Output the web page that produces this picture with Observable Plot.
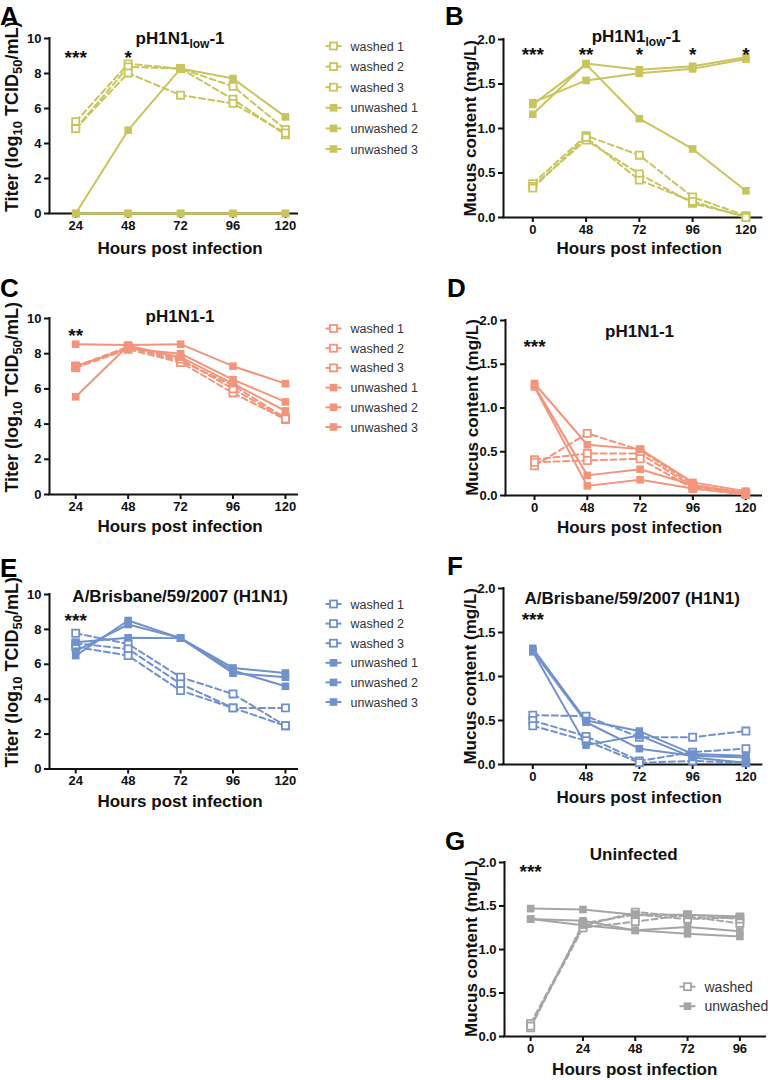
<!DOCTYPE html>
<html><head><meta charset="utf-8">
<script src="https://cdn.jsdelivr.net/npm/d3@7"></script>
<script src="https://cdn.jsdelivr.net/npm/@observablehq/plot@0.6"></script>
<style>
body{margin:0;background:#fff;}
#page{position:relative;width:773px;height:1080px;overflow:hidden;background:#fff;font-family:"Liberation Sans",Arial,sans-serif;}
#overlay{position:absolute;left:0;top:0;pointer-events:none;}
</style></head><body><div id="page"></div>
<script>
// ---------- data ----------
const titerHours = ["24", "48", "72", "96", "120"];
const mucusHours = ["0", "48", "72", "96", "120"];
const uninfHours = ["0", "24", "48", "72", "96"];
const legendNames = ["washed 1", "washed 2", "washed 3", "unwashed 1", "unwashed 2", "unwashed 3"];
const legendNamesG = ["washed", "unwashed"];

// A: pH1N1low-1 titer
const aWashed = [[5.25, 8.55, 8.28, 7.27, 4.8], [4.85, 8.38, 8.28, 6.53, 4.5], [4.85, 8.03, 6.76, 6.29, 4.6]];
const aUnwashed = [[0, 4.76, 8.28, 7.71, 5.52], [0, 0, 0, 0, 0], [0, 0, 0, 0, 0]];
const aSig = ["***", "*", "", "", ""];
// B: pH1N1low-1 mucus
const bWashed = [[0.38, 0.92, 0.70, 0.23, 0.02], [0.35, 0.87, 0.49, 0.16, 0.01], [0.33, 0.90, 0.42, 0.18, 0.0]];
const bUnwashed = [[1.16, 1.73, 1.66, 1.70, 1.80], [1.29, 1.54, 1.62, 1.67, 1.78], [1.27, 1.72, 1.11, 0.77, 0.30]];
const bSig = ["***", "**", "*", "*", "*"];
// C: pH1N1-1 titer
const cWashed = [[7.3, 8.35, 7.6, 6.2, 4.35], [7.2, 8.25, 7.5, 5.77, 4.26], [7.25, 8.4, 7.7, 6.0, 4.3]];
const cUnwashed = [[8.54, 8.5, 8.54, 7.29, 6.3], [7.29, 8.3, 8.0, 6.53, 5.26], [5.55, 8.45, 7.8, 6.3, 4.75]];
const cSig = ["**", "", "", "", ""];
// D: pH1N1-1 mucus
const dWashed = [[0.34, 0.71, 0.52, 0.12, 0.03], [0.41, 0.48, 0.48, 0.10, 0.02], [0.38, 0.40, 0.42, 0.08, 0.01]];
const dUnwashed = [[1.28, 0.58, 0.53, 0.15, 0.05], [1.25, 0.23, 0.30, 0.12, 0.03], [1.24, 0.11, 0.18, 0.08, 0.02]];
const dSig = ["***", "", "", "", ""];
// E: A/Brisbane/59/2007 titer
const eWashed = [[7.78, 7.17, 5.26, 4.3, 2.48], [7.2, 6.88, 4.88, 3.5, 3.5], [7.0, 6.5, 4.49, 3.5, 2.48]];
const eUnwashed = [[6.5, 8.51, 7.5, 5.79, 5.5], [6.75, 8.28, 7.5, 5.64, 4.74], [7.27, 7.52, 7.5, 5.49, 5.26]];
const eSig = ["***", "", "", "", ""];
// F: A/Brisbane/59/2007 mucus
const fWashed = [[0.56, 0.55, 0.31, 0.31, 0.38], [0.50, 0.32, 0.04, 0.14, 0.18], [0.44, 0.27, 0.02, 0.04, 0.02]];
const fUnwashed = [[1.32, 0.50, 0.38, 0.12, 0.10], [1.29, 0.48, 0.18, 0.10, 0.08], [1.28, 0.22, 0.33, 0.08, 0.02]];
const fSig = ["***", "", "", "", ""];
// G: Uninfected mucus
const gWashed = [[0.15, 1.27, 1.43, 1.38, 1.30], [0.10, 1.30, 1.40, 1.35, 1.37], [0.12, 1.25, 1.32, 1.40, 1.35]];
const gUnwashed = [[1.47, 1.46, 1.40, 1.40, 1.38], [1.35, 1.33, 1.22, 1.26, 1.21], [1.35, 1.28, 1.22, 1.18, 1.15]];
const gSig = ["***", "", "", "", ""];

const titerTicks = [0, 2, 4, 6, 8, 10];
const mucusTicks = [0, 0.5, 1.0, 1.5, 2.0];

// ---------- styles ----------
const YELLOW = "#c9c45c", SALMON = "#f3957b", BLUE = "#7191cc", GRAY = "#a5a5a5";
const FONT = "'Liberation Sans', Arial, sans-serif";
const page = document.getElementById("page");

function pxOf(cfg, i) {
  const [d0, d1] = cfg.xDomain;
  return cfg.xL + (i - d0) / (d1 - d0) * (cfg.xR - cfg.xL);
}

function panel(cfg) {
  const mL = 60, mR = 14, mT = 34, mB = 34;
  const width = (cfg.xR - cfg.xL) + mL + mR;
  const height = (cfg.yB - cfg.yT) + mT + mB;
  const rows = [];
  cfg.washed.forEach((arr, k) => arr.forEach((v, i) => rows.push({series: "w" + k, group: "washed", i, v})));
  cfg.unwashed.forEach((arr, k) => arr.forEach((v, i) => rows.push({series: "u" + k, group: "unwashed", i, v})));
  const W = rows.filter(d => d.group === "washed");
  const U = rows.filter(d => d.group === "unwashed");
  const sig = cfg.sig.map((s, i) => ({s, i})).filter(d => d.s);
  const xt = cfg.hours.map((h, i) => ({h, i}));
  const [y0, y1] = cfg.yDomain, [x0, x1] = cfg.xDomain;
  const svg = Plot.plot({
    width, height, marginLeft: mL, marginRight: mR, marginTop: mT, marginBottom: mB,
    x: {type: "linear", domain: cfg.xDomain, axis: null},
    y: {type: "linear", domain: cfg.yDomain, axis: null},
    style: {fontFamily: FONT, fontWeight: "bold", background: "transparent", overflow: "visible"},
    marks: [
      Plot.axisY({ticks: cfg.yTicks, tickFormat: () => "", tickSize: 5, strokeWidth: 2, color: "#111", label: null}),
      Plot.axisX({ticks: [0, 1, 2, 3, 4], tickFormat: () => "", tickSize: 5, strokeWidth: 2, color: "#111", label: null}),
      Plot.text(cfg.yTicks, {x: x0, y: d => d, text: cfg.yFmt, textAnchor: "end", dx: -8,
        fontSize: 13, fontWeight: "bold", fill: "#111"}),
      Plot.text(xt, {x: "i", y: y0, text: "h", lineAnchor: "top", dy: 7,
        fontSize: 13, fontWeight: "bold", fill: "#111"}),
      Plot.ruleX([x0], {y1: y0, y2: y1, stroke: "#111", strokeWidth: 2, strokeLinecap: "square"}),
      Plot.ruleY([y0], {x1: x0, x2: x1, stroke: "#111", strokeWidth: 2, strokeLinecap: "square"}),
      Plot.line(W, {x: "i", y: "v", z: "series", stroke: cfg.color, strokeWidth: 2, strokeDasharray: "6,3.5"}),
      Plot.line(U, {x: "i", y: "v", z: "series", stroke: cfg.color, strokeWidth: 2}),
      Plot.dot(W, {x: "i", y: "v", symbol: "square", r: 4, fill: "white", stroke: cfg.color, strokeWidth: 1.8}),
      Plot.dot(U, {x: "i", y: "v", symbol: "square", r: 4.3, fill: cfg.color, stroke: "none"}),
      Plot.text(sig, {x: "i", y: cfg.sigY, text: "s", fontSize: 19, fontWeight: "bold", fill: "#111", dy: 5})
    ]
  });
  svg.style.position = "absolute";
  svg.style.left = (cfg.xL - mL) + "px";
  svg.style.top = (cfg.yT - mT) + "px";
  svg.style.overflow = "visible";
  page.appendChild(svg);
}

const fmtT = d => String(d);
const fmtM = d => d.toFixed(1);
const panels = {
  A: {xL: 49, xR: 297, yT: 38.3, yB: 213.3, xDomain: [-0.5, 4.23], yDomain: [0, 10], yTicks: titerTicks, yFmt: fmtT,
      hours: titerHours, washed: aWashed, unwashed: aUnwashed, color: YELLOW, sig: aSig, sigY: 9.16},
  B: {xL: 503.3, xR: 761.7, yT: 39.3, yB: 217.3, xDomain: [-0.55, 4.3], yDomain: [0, 2], yTicks: mucusTicks, yFmt: fmtM,
      hours: mucusHours, washed: bWashed, unwashed: bUnwashed, color: YELLOW, sig: bSig, sigY: 1.88},
  C: {xL: 49, xR: 297, yT: 318.3, yB: 494.3, xDomain: [-0.5, 4.23], yDomain: [0, 10], yTicks: titerTicks, yFmt: fmtT,
      hours: titerHours, washed: cWashed, unwashed: cUnwashed, color: SALMON, sig: cSig, sigY: 9.3},
  D: {xL: 505, xR: 761, yT: 320, yB: 495, xDomain: [-0.55, 4.3], yDomain: [0, 2], yTicks: mucusTicks, yFmt: fmtM,
      hours: mucusHours, washed: dWashed, unwashed: dUnwashed, color: SALMON, sig: dSig, sigY: 1.75},
  E: {xL: 49, xR: 297, yT: 594, yB: 768.5, xDomain: [-0.5, 4.23], yDomain: [0, 10], yTicks: titerTicks, yFmt: fmtT,
      hours: titerHours, washed: eWashed, unwashed: eUnwashed, color: BLUE, sig: eSig, sigY: 8.8},
  F: {xL: 503.3, xR: 761.7, yT: 588.3, yB: 764.3, xDomain: [-0.55, 4.3], yDomain: [0, 2], yTicks: mucusTicks, yFmt: fmtM,
      hours: mucusHours, washed: fWashed, unwashed: fUnwashed, color: BLUE, sig: fSig, sigY: 1.70},
  G: {xL: 504, xR: 765, yT: 861.7, yB: 1035.7, xDomain: [-0.5, 4.49], yDomain: [0, 2], yTicks: mucusTicks, yFmt: fmtM,
      hours: uninfHours, washed: gWashed, unwashed: gUnwashed, color: GRAY, sig: gSig, sigY: 1.95}
};
Object.values(panels).forEach(panel);

// ---------- text overlay ----------
const ov = d3.select(page).append("svg").attr("id", "overlay").attr("width", 773).attr("height", 1080)
  .style("font-family", FONT);

function rich(parent, parts, size, subSize) {
  const t = parent;
  let shifted = false;
  parts.forEach(p => {
    const sub = Array.isArray(p);
    const txt = sub ? p[0] : p;
    const ts = t.append("tspan").text(txt).attr("font-size", sub ? subSize : size);
    if (sub && !shifted) { ts.attr("dy", 4); shifted = true; }
    else if (!sub && shifted) { ts.attr("dy", -4); shifted = false; }
  });
  return t;
}

const titerLabel = ["Titer (log", ["10"], " TCID", ["50"], "/mL)"];
const mucusLabel = ["Mucus content (mg/L)"];
const lowTitle = ["pH1N1", ["low"], "-1"];

function yLabel(cfg, parts, bx, size, off) {
  const cy = (cfg.yT + cfg.yB) / 2 + off;
  const t = ov.append("text").attr("transform", `translate(${bx},${cy}) rotate(-90)`)
    .attr("text-anchor", "middle").attr("font-weight", "bold").attr("fill", "#111");
  rich(t, parts, size, 13);
}
function xLabel(cfg, off) {
  ov.append("text").attr("x", pxOf(cfg, 2)).attr("y", cfg.yB + off).attr("text-anchor", "middle")
    .attr("font-weight", "bold").attr("font-size", 17).attr("fill", "#111").text("Hours post infection");
}
function title(cfg, parts, x, y) {
  const t = ov.append("text").attr("x", x).attr("y", y).attr("text-anchor", "middle")
    .attr("font-weight", "bold").attr("fill", "#111");
  rich(t, parts, 17, 12);
}
function letter(ch, x, y) {
  ov.append("text").attr("x", x).attr("y", y).attr("font-weight", "bold").attr("font-size", 26)
    .attr("fill", "#000").text(ch);
}
function legend(names, color, y0, step, lx, size, opens) {
  names.forEach((n, k) => {
    const y = y0 + k * step;
    const open = opens(k);
    ov.append("line").attr("x1", lx - 8).attr("x2", lx + 8).attr("y1", y).attr("y2", y)
      .attr("stroke", color).attr("stroke-width", 2);
    if (open) ov.append("rect").attr("x", lx - 3.5).attr("y", y - 3.5).attr("width", 7).attr("height", 7)
      .attr("fill", "white").attr("stroke", color).attr("stroke-width", 1.8);
    else ov.append("rect").attr("x", lx - 3.8).attr("y", y - 3.8).attr("width", 7.6).attr("height", 7.6)
      .attr("fill", color);
    ov.append("text").attr("x", lx + 17).attr("y", y + size * 0.36).attr("font-size", size)
      .attr("fill", "#333").text(n);
  });
}

const P = panels;
[P.A, P.C, P.E].forEach(c => { yLabel(c, titerLabel, 18, 18, -9); });
[P.B, P.D, P.F, P.G].forEach(c => { yLabel(c, mucusLabel, c.xL - 27.5, 17, 0); });
xLabel(P.A, 41); xLabel(P.B, 37); xLabel(P.C, 38); xLabel(P.D, 38);
xLabel(P.E, 38); xLabel(P.F, 39); xLabel(P.G, 39);

title(P.A, lowTitle, pxOf(P.A, 2), 44);
title(P.B, lowTitle, pxOf(P.B, 2) - 3, 42);
title(P.C, ["pH1N1-1"], pxOf(P.C, 2), 322);
title(P.D, ["pH1N1-1"], pxOf(P.D, 2), 337);
title(P.E, ["A/Brisbane/59/2007 (H1N1)"], pxOf(P.E, 2), 602);
title(P.F, ["A/Brisbane/59/2007 (H1N1)"], pxOf(P.F, 2) - 7, 604);
title(P.G, ["Uninfected"], pxOf(P.G, 2) - 1, 860);

letter("A", 0, 25); letter("B", 445, 25); letter("C", 0, 297); letter("D", 447, 297);
letter("E", 0, 577); letter("F", 447, 575); letter("G", 445, 850);

legend(legendNames, YELLOW, 46, 20.6, 333.5, 12.5, k => k < 3);
legend(legendNames, SALMON, 328.5, 19.7, 333.5, 12.5, k => k < 3);
legend(legendNames, BLUE, 604, 19.6, 333.5, 12.5, k => k < 3);
legend(legendNamesG, GRAY, 986.7, 19.5, 687.5, 14, k => k < 1);
</script></body></html>
